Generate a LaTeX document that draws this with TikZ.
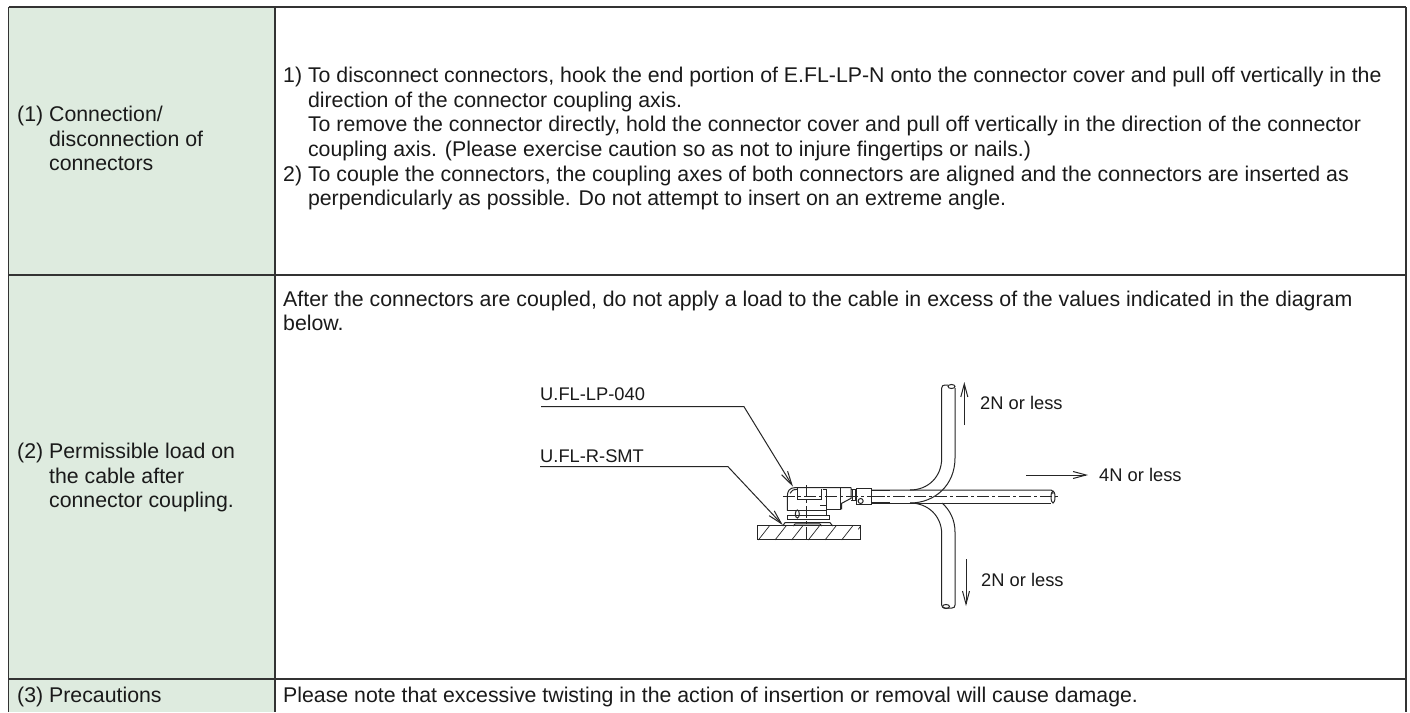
\documentclass[tikz,border=0pt]{standalone}
\usepackage{fontspec}
\setmainfont{Liberation Sans}
\usetikzlibrary{arrows.meta}
\definecolor{cellgreen}{HTML}{DEEBDF}
\definecolor{ink}{HTML}{1A1A1A}
\tikzset{
  txt/.style={inner sep=0pt,anchor=north west,align=left,text=ink,font=\fontsize{21.3}{24.6}\selectfont},
  lab/.style={txt,font=\fontsize{18.3}{22}\selectfont},
  rule/.style={draw=black!80,line width=1.3pt},
  draft/.style={draw=black!85,line width=1pt},
  centre/.style={draw=black!85,line width=0.7pt,dash pattern=on 12pt off 3pt on 3pt off 3pt},
  force/.style={draw=black!85,line width=1pt,-{Straight Barb[length=13pt,width=7pt]}},
  leader/.style={draw=black!85,line width=1pt,-{Straight Barb[length=14pt,width=7pt]}}
}
\begin{document}
\begin{tikzpicture}[x=1pt,y=-1pt]
\useasboundingbox (0,0) rectangle (1410,712);
\fill[white] (0,0) rectangle (1410,712);
\fill[cellgreen] (8.5,7) rectangle (275,712);
% table rules
\draw[rule] (8.5,7) -- (1406,7);
\draw[rule] (8.5,7) -- (8.5,712);
\draw[rule] (275,7) -- (275,712);
\draw[rule] (1406,7) -- (1406,712);
\draw[rule] (8.5,275) -- (1406,275);
\draw[rule] (8.5,679) -- (1406,679);
% left column
\node[txt] (c1) at (17,106) {(1) Connection/\\\phantom{(1) }disconnection of\\\phantom{(1) }connectors};
\node[txt] (c2) at (17,443) {(2) Permissible load on\\\phantom{(2) }the cable after\\\phantom{(2) }connector coupling.};
\node[txt] (c3) at (17,687) {(3) Precautions};
% right column
\node[txt] (d1) at (283,67) {1) To disconnect connectors, hook the end portion of E.FL-LP-N onto the connector cover and pull off vertically in the\\
\phantom{1) }direction of the connector coupling axis.\\
\phantom{1) }To remove the connector directly, hold the connector cover and pull off vertically in the direction of the connector\\
\phantom{1) }coupling axis. (Please exercise caution so as not to injure fingertips or nails.)\\
2) To couple the connectors, the coupling axes of both connectors are aligned and the connectors are inserted as\\
\phantom{2) }perpendicularly as possible. Do not attempt to insert on an extreme angle.};
\node[txt] (d2) at (283,290.5) {After the connectors are coupled, do not apply a load to the cable in excess of the values indicated in the diagram\\below.};
\node[txt] (d3) at (283,687) {Please note that excessive twisting in the action of insertion or removal will cause damage.};
% labels
\node[lab] (lp) at (540,387.5) {U.FL-LP-040};
\node[lab] (smt) at (540,449.5) {U.FL-R-SMT};
\node[lab] (up) at (980,396.5) {2N or less};
\node[lab] (right) at (1099,468.5) {4N or less};
\node[lab] (down) at (981,573.5) {2N or less};
% leaders
\coordinate (lpA) at (541,406.7);
\coordinate (lpB) at (744,406.7);
\coordinate (lpC) at (793,486.7);
\coordinate (smtA) at (540,466.7);
\coordinate (smtB) at (728,466.7);
\coordinate (smtC) at (782.7,525);
\draw[leader] (lpA) -- (lpB) -- (lpC);
\draw[leader] (smtA) -- (smtB) -- (smtC);
% force arrows
\coordinate (upA) at (964.3,425);
\coordinate (upB) at (964.3,382);
\coordinate (rightA) at (1026,475);
\coordinate (rightB) at (1088,475);
\coordinate (downA) at (966,559);
\coordinate (downB) at (966,606);
\draw[force] (upA) -- (upB);
\draw[force] (rightA) -- (rightB);
\draw[force] (downA) -- (downB);
% cable, three positions
\draw[draft] (872,490) -- (1051,490) .. controls (1053,490) and (1053,492) .. (1053,494);
\draw[draft] (872,503) -- (1051,503);
\draw[draft] (1053,497) ellipse (2pt and 6pt);
\draw[centre] (872,496.7) -- (1058,496.7);
\draw[draft] (941.7,388) -- (941.7,458) .. controls (941.7,477) and (928,490) .. (910,490);
\draw[draft] (955,388) -- (955,458) .. controls (955,485) and (935,503) .. (910,503);
\draw[draft] (941.7,605) -- (941.7,534) .. controls (941.7,516) and (928,503) .. (910,503);
\draw[draft] (955,605) -- (955,532) .. controls (955,520) and (950,510) .. (942,503);
\draw[draft] (941.7,388) .. controls (941.7,386) and (943,385) .. (945,385) -- (948,385);
\draw[draft] (951.5,386.5) ellipse (3.5pt and 2pt);
\draw[draft] (941.7,605) .. controls (941.7,607) and (943,608) .. (945,608) -- (952,608) .. controls (954,608) and (955,607) .. (955,605);
\draw[draft] (946,606.5) ellipse (3.5pt and 2pt);
% connector, in a 3x grid from (740,440)
\begin{scope}[shift={(740,440)},x=0.3333pt,y=-0.3333pt]
\draw[draft] (52,258) rectangle (362,300);
\foreach \k in {0,50,100,150,200,250}
  \draw[draw=black!85,line width=0.7pt] (55+\k,300) -- (88+\k,258);
\draw[draw=black!85,line width=0.7pt] (355,268) -- (362,258);
\draw[centre] (130,170) -- (448,170);
\draw[centre] (200,135) -- (200,300);
\draw[draft] (142,212) -- (142,168) .. controls (142,152) and (150,143) .. (165,143) -- (333,143);
\draw[draft] (150,160) .. controls (153,152) and (160,148) .. (173,148);
\draw[draft] (173,143) -- (173,178) -- (245,178) -- (245,147);
\draw[draft] (248,147) -- (260,147) -- (260,228);
\draw[draft] (300,143) -- (300,208) -- (260,208);
\draw[draft] (240,195) -- (260,195);
\draw[draft] (333,143) -- (333,175) -- (305,190) -- (305,208);
\draw[draft] (333,147) -- (346,147) -- (346,182) -- (333,182);
\draw[draft] (337,147) -- (337,180);
\draw[draft] (349,145) rectangle (395,193);
\draw[draft] (395,150) -- (450,150);
\draw[draft] (395,188) -- (450,188);
\draw[draft] (362,183) ellipse (2.5pt and 2.5pt);
\draw[draft] (142,212) -- (260,212);
\draw[draft] (142,228) -- (268,228) -- (268,238) -- (142,238) -- cycle;
\draw[draft] (172,222) ellipse (2pt and 4pt);
\draw[draft] (128,258) -- (135,248) -- (270,248) -- (278,258);
\draw[draft] (160,258) -- (165,252) -- (240,252) -- (245,258);
\end{scope}
\end{tikzpicture}
\end{document}
